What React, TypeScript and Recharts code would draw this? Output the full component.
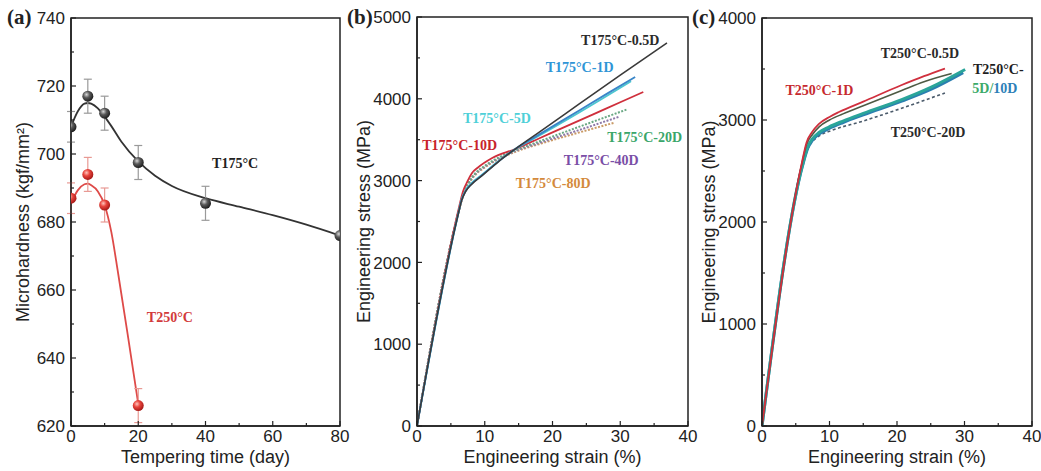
import { ComposedChart, LineChart, Line, XAxis, YAxis, ErrorBar, ReferenceArea, ReferenceDot } from 'recharts';

const SANS = '"Liberation Sans", Arial, sans-serif';
const SERIF = '"Liberation Serif", "Times New Roman", serif';
const INK = '#222';

// (a) microhardness vs tempering time
const days175 = [0, 5, 10, 20, 40, 80];
const hv175 = [708, 717, 712, 697.5, 685.5, 676];
const err175 = [4.5, 5, 5, 5, 5, 0];
const days250 = [0, 5, 10, 20];
const hv250 = [687, 694, 685, 626];
const err250 = [4.5, 5, 5, 5];
const fit175Days = [0, 2, 4, 5, 6, 8, 10, 12, 15, 20, 25, 30, 40, 50, 60, 70, 80];
const fit175Hv = [708, 712.5, 714.8, 715, 714.8, 713.4, 711, 708.2, 703.6, 697.8, 693.6, 690.6, 687, 684.5, 682, 679.2, 676];
const fit250Days = [0, 2, 4, 5, 6, 8, 10, 12, 14, 17, 20];
const fit250Hv = [685.5, 689.3, 691.1, 691.3, 690.8, 689, 685, 677, 665, 646, 626.5];

// (b) T175°C stress-strain
const b05Strain = [0, 6, 6.6, 7.2, 8, 9.6, 12, 14.5, 18, 24, 30, 36.9];
const b05Stress = [0, 2560, 2760, 2870, 2950, 3060, 3230, 3386, 3590, 3940, 4290, 4682];
const b1Strain = [0, 6, 6.6, 7.2, 8, 9.6, 12, 14.5, 18, 24, 28, 32.2];
const b1Stress = [0, 2560, 2765, 2875, 2955, 3065, 3232, 3386, 3562, 3860, 4060, 4266];
const b5Strain = [0, 6, 6.6, 7.2, 8, 9.6, 12, 14.5, 18, 24, 31.6];
const b5Stress = [0, 2565, 2775, 2885, 2965, 3072, 3236, 3386, 3548, 3836, 4215];
const b10Strain = [0, 6, 6.8, 7.5, 8.1, 9, 11.1, 14.5, 18, 22, 26, 30, 33.4];
const b10Stress = [0, 2600, 2870, 3000, 3090, 3160, 3276, 3386, 3515, 3663, 3810, 3958, 4083];
const b20Strain = [0, 6, 6.8, 7.5, 8.5, 10, 12, 14.5, 18, 24, 31];
const b20Stress = [0, 2580, 2830, 2960, 3080, 3180, 3280, 3372, 3478, 3660, 3870];
const b40Strain = [0, 6, 6.8, 7.5, 8.5, 10, 12, 14.5, 18, 24, 29.8];
const b40Stress = [0, 2575, 2820, 2950, 3070, 3170, 3270, 3362, 3460, 3620, 3780];
const b80Strain = [0, 6, 6.8, 7.5, 8.5, 10, 12, 14.5, 18, 24, 29];
const b80Stress = [0, 2570, 2810, 2940, 3060, 3160, 3260, 3352, 3445, 3590, 3705];

// (c) T250°C stress-strain
const c05Strain = [0, 5.9, 6.6, 7.5, 8.5, 10, 12, 15, 20.7, 24, 28.1];
const c05Stress = [0, 2570, 2760, 2860, 2935, 3000, 3060, 3140, 3290, 3375, 3455];
const c1Strain = [0, 5.9, 6.6, 7.4, 8.4, 10, 11.4, 15, 20.7, 24, 27.1];
const c1Stress = [0, 2580, 2780, 2880, 2960, 3030, 3078, 3180, 3343, 3430, 3505];
const c5Strain = [0, 6, 6.8, 7.4, 8.5, 9.9, 12, 15, 20.7, 25, 30.1];
const c5Stress = [0, 2560, 2740, 2810, 2880, 2931, 2990, 3065, 3200, 3320, 3495];
const c10Strain = [0, 6, 6.8, 7.4, 8.5, 9.9, 12, 15, 20.7, 25, 29.8];
const c10Stress = [0, 2550, 2725, 2795, 2865, 2915, 2975, 3050, 3185, 3300, 3465];
const c20Strain = [0, 6, 6.8, 7.5, 8.6, 10, 15, 20.7, 27.1];
const c20Stress = [0, 2550, 2720, 2790, 2850, 2890, 2990, 3115, 3265];

const zip = (xs: number[], ys: number[], es?: number[]) =>
  xs.map((x, i) => ({ x, y: ys[i], e: es ? es[i] : 0 }));

const range = (a: number, b: number, s: number) => {
  const out: number[] = [];
  for (let v = a; v <= b + 1e-9; v += s) out.push(v);
  return out;
};

const YTick = (major: number) => (p: any) => {
  const v = p.payload.value;
  const isMajor = Math.abs(v % major) < 1e-9;
  const ax = p.x + 6;
  return (
    <g>
      <line x1={ax} x2={ax + (isMajor ? 5 : 3)} y1={p.y} y2={p.y} stroke={INK} strokeWidth={1.2} />
      {isMajor && (
        <text x={p.x} y={p.y} dy="0.36em" textAnchor="end" fontSize={17} fontFamily={SANS} fill={INK}>
          {v}
        </text>
      )}
    </g>
  );
};

const XTick = (major: number) => (p: any) => {
  const v = p.payload.value;
  const isMajor = Math.abs(v % major) < 1e-9;
  const ay = p.y - 4;
  return (
    <g>
      <line x1={p.x} x2={p.x} y1={ay} y2={ay - (isMajor ? 5 : 3)} stroke={INK} strokeWidth={1.2} />
      {isMajor && (
        <text x={p.x} y={p.y} dy="0.71em" textAnchor="middle" fontSize={17} fontFamily={SANS} fill={INK}>
          {v}
        </text>
      )}
    </g>
  );
};

const xTitle = (t: string) => (p: any) => {
  const vb = p.viewBox;
  return (
    <text x={vb.x + vb.width / 2} y={vb.y + vb.height - 8} textAnchor="middle" fontSize={18} fontFamily={SANS} fill={INK}>
      {t}
    </text>
  );
};

const yTitle = (t: string, cx: number) => (p: any) => {
  const vb = p.viewBox;
  const x = vb.x + cx;
  const y = vb.y + vb.height / 2;
  return (
    <text x={x} y={y} dy="0.36em" textAnchor="middle" transform={`rotate(-90, ${x}, ${y})`} fontSize={18} fontFamily={SANS} fill={INK}>
      {t}
    </text>
  );
};

const note = (parts: { t: string; c: string }[]) => (p: any) => {
  const vb = p.viewBox;
  return (
    <text x={vb.x + vb.width / 2} y={vb.y + vb.height / 2} dy="0.35em" textAnchor="middle" fontSize={14} fontWeight="bold" fontFamily={SERIF}>
      {parts.map((q, i) => (
        <tspan key={i} fill={q.c}>{q.t}</tspan>
      ))}
    </text>
  );
};

const sphere = (id: string, fallback: string) => (p: any) => (
  <circle key={`s-${p.index}`} cx={p.cx} cy={p.cy} r={5.5} fill={`url(#${id}) ${fallback}`} />
);

function PanelLabel({ text, left }: { text: string; left: number }) {
  return (
    <div style={{ position: 'absolute', left, top: 7, fontFamily: SERIF, fontWeight: 'bold', fontSize: 21, lineHeight: '21px', color: INK }}>
      {text}
    </div>
  );
}

export default function App() {
  const line = (data: any[], color: string, width = 1.8, dash?: string) => (
    <Line
      data={data}
      dataKey="y"
      type="monotone"
      stroke={color}
      strokeWidth={width}
      strokeDasharray={dash}
      dot={false}
      activeDot={false}
      isAnimationActive={false}
    />
  );

  return (
    <div style={{ position: 'absolute', left: 0, top: 0, width: 1041, height: 471, background: '#fff', overflow: 'hidden' }}>
      {/* (a) */}
      <div style={{ position: 'absolute', left: 0, top: 0 }}>
        <ComposedChart width={350} height={471} margin={{ top: 18, right: 10, left: 0, bottom: 0 }}>
          <defs>
            <radialGradient id="g175" cx="38%" cy="35%" r="65%">
              <stop offset="0%" stopColor="#d8d8d8" />
              <stop offset="45%" stopColor="#5a5a5a" />
              <stop offset="100%" stopColor="#1e1e1e" />
            </radialGradient>
            <radialGradient id="g250" cx="38%" cy="35%" r="65%">
              <stop offset="0%" stopColor="#ffc4bc" />
              <stop offset="45%" stopColor="#e8443c" />
              <stop offset="100%" stopColor="#a81a18" />
            </radialGradient>
          </defs>
          <XAxis type="number" dataKey="x" domain={[0, 80]} ticks={range(0, 80, 10)} interval={0} allowDataOverflow
            height={45} tickSize={0} tickMargin={4} tick={XTick(20)} axisLine={{ stroke: INK, strokeWidth: 1.5 }}
            label={xTitle('Tempering time (day)')} />
          <YAxis type="number" domain={[620, 740]} ticks={range(620, 740, 10)} interval={0} allowDataOverflow
            width={71} tickSize={0} tickMargin={6} tick={YTick(20)} axisLine={{ stroke: INK, strokeWidth: 1.5 }}
            label={yTitle('Microhardness (kgf/mm²)', 23)} />
          <ReferenceArea x1={0} x2={80} y1={620} y2={740} fill="none" stroke={INK} strokeWidth={1.5} />
          {line(zip(fit175Days, fit175Hv), '#333', 1.8)}
          {line(zip(fit250Days, fit250Hv), '#de4a48', 1.8)}
          <Line data={zip(days175, hv175, err175)} dataKey="y" stroke="none" dot={sphere('g175', '#444')} activeDot={false} isAnimationActive={false}>
            <ErrorBar dataKey="e" direction="y" width={4} stroke="#9a9a9a" strokeWidth={1.2} />
          </Line>
          <Line data={zip(days250, hv250, err250)} dataKey="y" stroke="none" dot={sphere('g250', '#e04040')} activeDot={false} isAnimationActive={false}>
            <ErrorBar dataKey="e" direction="y" width={4} stroke="#e89a94" strokeWidth={1.2} />
          </Line>
          <ReferenceDot x={48.8} y={697.4} r={0} stroke="none" fill="none" label={note([{ t: 'T175°C', c: '#222' }])} />
          <ReferenceDot x={29.4} y={652} r={0} stroke="none" fill="none" label={note([{ t: 'T250°C', c: '#d23a3a' }])} />
        </ComposedChart>
      </div>

      {/* (b) */}
      <div style={{ position: 'absolute', left: 345, top: 0 }}>
        <LineChart width={355} height={471} margin={{ top: 17, right: 12, left: 0, bottom: 0 }}>
          <XAxis type="number" dataKey="x" domain={[0, 40]} ticks={range(0, 40, 5)} interval={0} allowDataOverflow
            height={45} tickSize={0} tickMargin={4} tick={XTick(10)} axisLine={{ stroke: INK, strokeWidth: 1.5 }}
            label={xTitle('Engineering strain (%)')} />
          <YAxis type="number" domain={[0, 5000]} ticks={range(0, 5000, 500)} interval={0} allowDataOverflow
            width={72} tickSize={0} tickMargin={6} tick={YTick(1000)} axisLine={{ stroke: INK, strokeWidth: 1.5 }}
            label={yTitle('Engineering stress (MPa)', 19)} />
          <ReferenceArea x1={0} x2={40} y1={0} y2={5000} fill="none" stroke={INK} strokeWidth={1.5} />
          {line(zip(b80Strain, b80Stress), '#c99a66', 2, '2 1.5')}
          {line(zip(b40Strain, b40Stress), '#8d78a8', 2, '2 1.5')}
          {line(zip(b20Strain, b20Stress), '#6aa884', 2, '2 1.5')}
          {line(zip(b10Strain, b10Stress), '#cf2f3c', 1.8)}
          {line(zip(b5Strain, b5Stress), '#4cc6d0', 1.8)}
          {line(zip(b1Strain, b1Stress), '#3a86c8', 1.8)}
          {line(zip(b05Strain, b05Stress), '#3a3a3a', 1.6)}
          <ReferenceDot x={30} y={4719} r={0} stroke="none" fill="none" label={note([{ t: 'T175°C-0.5D', c: '#2a2a2a' }])} />
          <ReferenceDot x={24} y={4389} r={0} stroke="none" fill="none" label={note([{ t: 'T175°C-1D', c: '#2f95d6' }])} />
          <ReferenceDot x={11.8} y={3765} r={0} stroke="none" fill="none" label={note([{ t: 'T175°C-5D', c: '#4fd0d8' }])} />
          <ReferenceDot x={6.3} y={3435} r={0} stroke="none" fill="none" label={note([{ t: 'T175°C-10D', c: '#c8242c' }])} />
          <ReferenceDot x={33.6} y={3533} r={0} stroke="none" fill="none" label={note([{ t: 'T175°C-20D', c: '#3aa66a' }])} />
          <ReferenceDot x={27.2} y={3252} r={0} stroke="none" fill="none" label={note([{ t: 'T175°C-40D', c: '#7a4ea6' }])} />
          <ReferenceDot x={20.1} y={2970} r={0} stroke="none" fill="none" label={note([{ t: 'T175°C-80D', c: '#d48a3c' }])} />
        </LineChart>
      </div>

      {/* (c) */}
      <div style={{ position: 'absolute', left: 690, top: 0 }}>
        <LineChart width={351} height={471} margin={{ top: 18, right: 9, left: 0, bottom: 0 }}>
          <XAxis type="number" dataKey="x" domain={[0, 40]} ticks={range(0, 40, 5)} interval={0} allowDataOverflow
            height={45} tickSize={0} tickMargin={4} tick={XTick(10)} axisLine={{ stroke: INK, strokeWidth: 1.5 }}
            label={xTitle('Engineering strain (%)')} />
          <YAxis type="number" domain={[0, 4000]} ticks={range(0, 4000, 500)} interval={0} allowDataOverflow
            width={72} tickSize={0} tickMargin={6} tick={YTick(1000)} axisLine={{ stroke: INK, strokeWidth: 1.5 }}
            label={yTitle('Engineering stress (MPa)', 19)} />
          <ReferenceArea x1={0} x2={40} y1={0} y2={4000} fill="none" stroke={INK} strokeWidth={1.5} />
          {line(zip(c20Strain, c20Stress), '#4a5a6a', 1.6, '3 2.5')}
          {line(zip(c10Strain, c10Stress), '#2a7fb0', 3)}
          {line(zip(c5Strain, c5Stress), '#2aa59a', 3)}
          {line(zip(c05Strain, c05Stress), '#4e5a44', 1.6)}
          {line(zip(c1Strain, c1Stress), '#d0303e', 1.8)}
          <ReferenceDot x={23.4} y={3657} r={0} stroke="none" fill="none" label={note([{ t: 'T250°C-0.5D', c: '#2a2a2a' }])} />
          <ReferenceDot x={8.5} y={3294} r={0} stroke="none" fill="none" label={note([{ t: 'T250°C-1D', c: '#c62a2f' }])} />
          <ReferenceDot x={35} y={3500} r={0} stroke="none" fill="none" label={note([{ t: 'T250°C-', c: '#1e1e1e' }])} />
          <ReferenceDot x={34.5} y={3314} r={0} stroke="none" fill="none" label={note([{ t: '5D/', c: '#3daa6a' }, { t: '10D', c: '#2d7fb8' }])} />
          <ReferenceDot x={24.6} y={2882} r={0} stroke="none" fill="none" label={note([{ t: 'T250°C-20D', c: '#2a2a2a' }])} />
        </LineChart>
      </div>

      <PanelLabel text="(a)" left={7} />
      <PanelLabel text="(b)" left={347} />
      <PanelLabel text="(c)" left={692} />
    </div>
  );
}
